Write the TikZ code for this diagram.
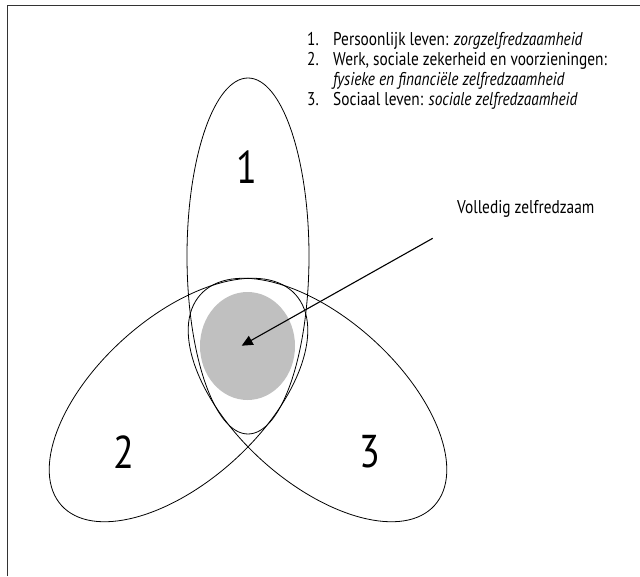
\documentclass[tikz,border=0pt]{standalone}
\usepackage{fontspec}
\setmainfont{PT Sans}[FakeStretch=0.83]
\usetikzlibrary{arrows.meta}
\definecolor{blobgray}{RGB}{192,192,192}
\tikzset{
  outline/.style={draw=black, line width=0.8pt},
  frameline/.style={draw=black!80, line width=1pt},
  listtext/.style={anchor=base west, inner sep=0pt, font=\fontsize{18.5}{21}\selectfont},
  bignum/.style={inner sep=0pt, font=\fontsize{46}{50}\selectfont},
  pointer/.style={draw=black, line width=1.1pt, -{Triangle[length=11pt,width=10pt]}}
}
\begin{document}
\begin{tikzpicture}[x=1pt,y=-1pt]
\useasboundingbox (0,0) rectangle (640,576);
\draw[frameline] (7,576) -- (7,5.5) -- (640,5.5);
% grey blob
\fill[blobgray] (247.5,346) ellipse [x radius=47.5pt, y radius=54pt];
% ellipses
\draw[outline] (248,256) ellipse [x radius=61pt, y radius=178pt];
\draw[outline, rotate around={42:(178.5,400)}] (178.5,400) ellipse [x radius=157.5pt, y radius=82pt];
\draw[outline, rotate around={-42:(317.5,400)}] (317.5,400) ellipse [x radius=157.5pt, y radius=82pt];
% numbers
\node[bignum] (n1) at (247,167) {1};
\node[bignum] (n2) at (124,452) {2};
\node[bignum] (n3) at (370,452) {3};
% legend
\node[listtext] (l1n) at (307,45) {1.};
\node[listtext] (l1) at (333,45) {Persoonlijk leven: \textit{zorgzelfredzaamheid}};
\node[listtext] (l2n) at (307,65) {2.};
\node[listtext] (l2) at (333,65) {Werk, sociale zekerheid en voorzieningen:};
\node[listtext] (l2b) at (333,85) {\textit{fysieke en financiële zelfredzaamheid}};
\node[listtext] (l3n) at (307,105) {3.};
\node[listtext] (l3) at (333,105) {Sociaal leven: \textit{sociale zelfredzaamheid}};
% pointer
\node[listtext] (vz) at (457,213) {Volledig zelfredzaam};
\coordinate (pstart) at (432.7,238.3);
\coordinate (ptip) at (241.7,345.7);
\draw[pointer] (pstart) -- (ptip);
\end{tikzpicture}
\end{document}
